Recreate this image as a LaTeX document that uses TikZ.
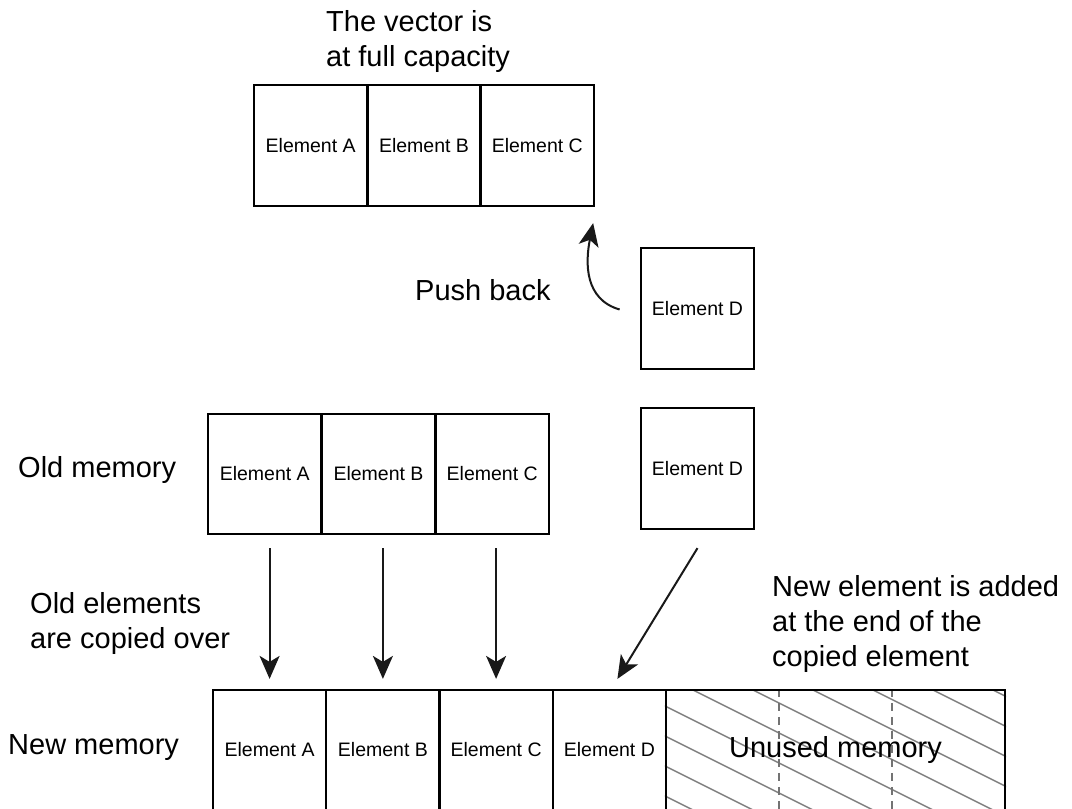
\documentclass[tikz,border=0pt]{standalone}
\usepackage{fontspec}
\setmainfont{Liberation Sans}
\usetikzlibrary{arrows.meta,calc,backgrounds}
\begin{document}
\begin{tikzpicture}[x=1pt,y=-1pt,
  cell/.style={draw, line width=2.2pt, minimum width=113.5pt, minimum height=121pt, inner sep=0pt, font=\fontsize{19.5}{23}\selectfont},
  lbl/.style={font=\fontsize{29}{35}\selectfont, align=left, inner sep=0pt},
  arr/.style={line width=2pt, draw=black!90, -{Stealth[length=23pt,width=20pt,inset=6pt]}},
  hatch/.style={draw=black!50, line width=1.5pt},
  guide/.style={draw=black!55, line width=1.8pt, dash pattern=on 8pt off 6pt}]
\useasboundingbox (0,0) rectangle (1072,809);

% top: full vector
\node[lbl, anchor=north west] (title) at (326,10) {The vector is\\at full capacity};
\node[cell] (tA) at (310.7,145.5) {Element A};
\node[cell] (tB) at (424,145.5) {Element B};
\node[cell] (tC) at (537.3,145.5) {Element C};

% element D (push back)
\node[cell] (dD1) at (697.5,308.5) {Element D};
\node[lbl, anchor=west] (pb) at (415,290) {Push back};
\coordinate (pbs) at ([xshift=-20pt,yshift=-1pt]dD1.west);
\coordinate (pbe) at ([xshift=-2pt,yshift=-16pt]tC.south east);
\draw[arr] (pbs) .. controls +(-35,-10) and +(-8,40) .. (pbe);

% old memory
\node[lbl, anchor=west] (om) at (18,470) {Old memory};
\node[cell, minimum height=120pt] (oA) at (264.8,474) {Element A};
\node[cell, minimum height=120pt] (oB) at (378.5,474) {Element B};
\node[cell, minimum height=120pt] (oC) at (492.2,474) {Element C};
\node[cell] (dD2) at (697.5,468.5) {Element D};

% labels
\node[lbl, anchor=north west] (oe) at (30,592) {Old elements\\are copied over};
\node[lbl, anchor=north west] (ne) at (772,575) {New element is added\\at the end of the\\copied element};

% new memory
\node[lbl, anchor=west] (nm) at (8,748) {New memory};
\node[cell, minimum height=120pt] (nA) at (269.6,750) {Element A};
\node[cell, minimum height=120pt] (nB) at (382.9,750) {Element B};
\node[cell, minimum height=120pt] (nC) at (496.1,750) {Element C};
\node[cell, minimum height=120pt] (nD) at (609.4,750) {Element D};
\node[cell, minimum width=339pt, minimum height=120pt, font=\fontsize{29}{35}\selectfont] (nU) at (835.5,750) {Unused memory};

\begin{scope}[on background layer]
  \clip (nU.north west) rectangle (nU.south east);
  \foreach \k in {-4,...,6} {
    \draw[hatch] ({693+60*\k},690) -- ++(420,210);
  }
  \draw[guide] ($(nU.north west)!1/3!(nU.north east)$) -- ($(nU.south west)!1/3!(nU.south east)$);
  \draw[guide] ($(nU.north west)!2/3!(nU.north east)$) -- ($(nU.south west)!2/3!(nU.south east)$);
\end{scope}

% copy arrows
\draw[arr, shorten <=13pt, shorten >=10pt] (oA.south -| nA.north) -- (nA.north);
\draw[arr, shorten <=13pt, shorten >=10pt] (oB.south -| nB.north) -- (nB.north);
\draw[arr, shorten <=13pt, shorten >=10pt] (oC.south -| nC.north) -- (nC.north);
\draw[arr] ([yshift=-18pt]dD2.south) -- ([xshift=8pt,yshift=10pt]nD.north);
\end{tikzpicture}
\end{document}
